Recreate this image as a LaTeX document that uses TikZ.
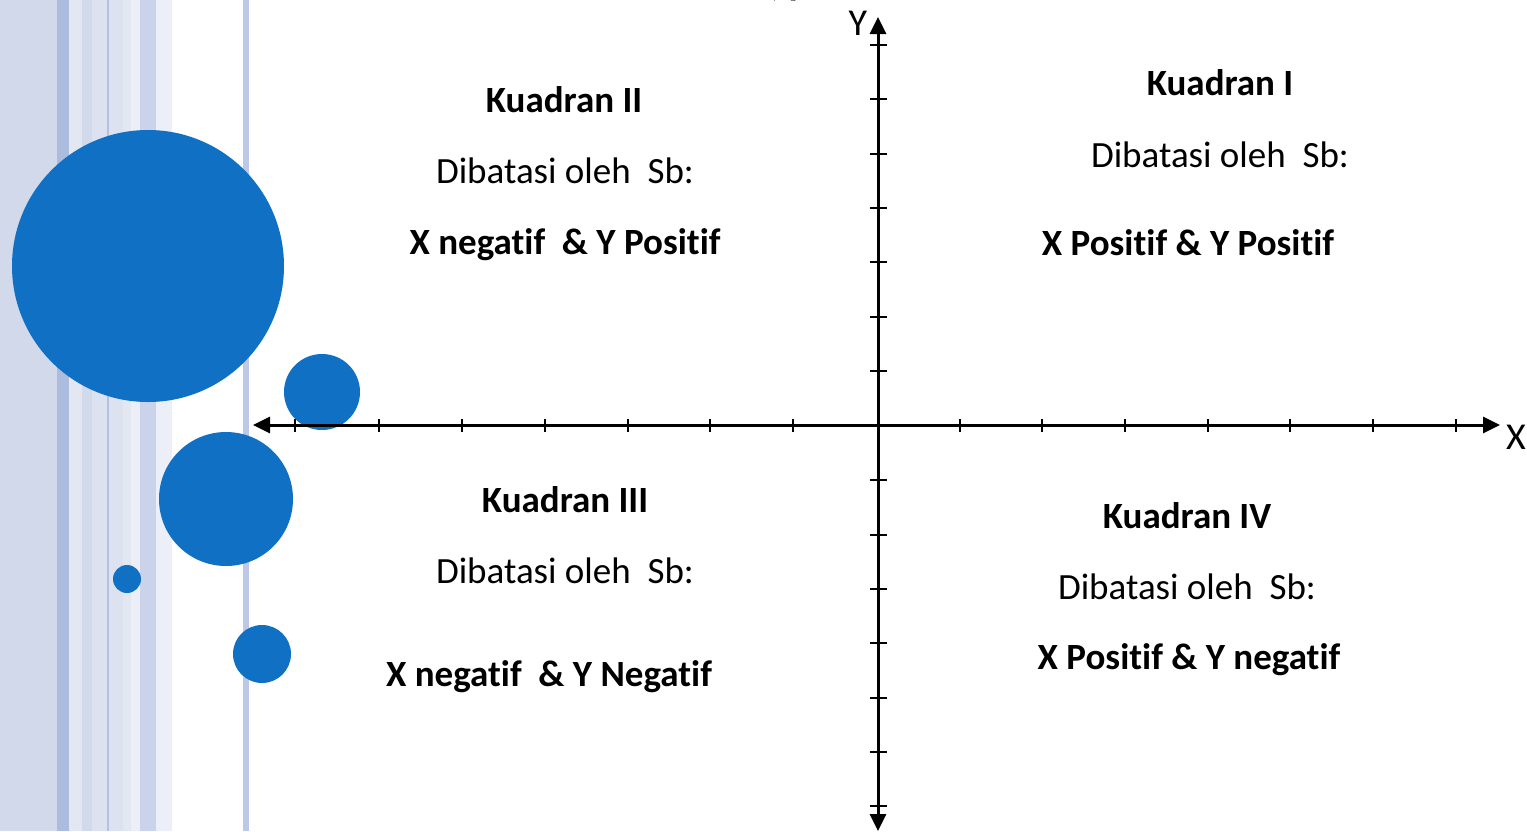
\documentclass[tikz,border=0pt]{standalone}
\usepackage{fontspec}
\setmainfont{Carlito}[Ligatures=NoCommon]
\usetikzlibrary{arrows.meta}
\definecolor{stA}{HTML}{D1D9EB}
\definecolor{stB}{HTML}{ACBCDF}
\definecolor{stC}{HTML}{E3E7F2}
\definecolor{stD}{HTML}{DDE2F0}
\definecolor{stE}{HTML}{B4C2E2}
\definecolor{stF}{HTML}{ECEFF7}
\definecolor{stG}{HTML}{CAD3EA}
\definecolor{stH}{HTML}{BCC8E6}
\definecolor{dot}{HTML}{1070C4}
\tikzset{
  axis/.style={line width=3pt, draw=black, -{Triangle[length=17pt,width=16pt]}},
  tick/.style={line width=2.5pt, draw=black},
  ball/.style={circle, fill=dot, draw=none, inner sep=0pt},
  ttl/.style={font=\fontsize{37}{40}\selectfont\bfseries, inner sep=0pt},
  txt/.style={font=\fontsize{37}{40}\selectfont, inner sep=0pt},
  lbl/.style={font=\fontsize{38}{40}\selectfont, inner sep=0pt},
}
\begin{document}
\begin{tikzpicture}[x=1pt,y=-1pt]
\useasboundingbox (0,0) rectangle (1527,831);
\fill[white] (0,0) rectangle (1527,831);
% background stripes
\fill[stA] (0,0) rectangle (57,831);
\fill[stB] (57,0) rectangle (69,831);
\fill[stC] (69,0) rectangle (82,831);
\fill[stA] (82,0) rectangle (92,831);
\fill[stD] (92,0) rectangle (107,831);
\fill[stE] (107,0) rectangle (109,831);
\fill[stD] (109,0) rectangle (123,831);
\fill[stC] (123,0) rectangle (131,831);
\fill[stF] (131,0) rectangle (140,831);
\fill[stG] (140,0) rectangle (156,831);
\fill[stF] (156,0) rectangle (172,831);
\fill[stH] (243,0) rectangle (249,831);
% cut-off text at the top
\node[font=\fontsize{37}{40}\selectfont, anchor=base, inner sep=0pt] (top) at (787,-4) {$,\;y$};
% circles
\node[ball, minimum size=272pt] (c1) at (148,266) {};
\node[ball, minimum size=76pt] (c2) at (322,392) {};
\node[ball, minimum size=134pt] (c3) at (226,499) {};
\node[ball, minimum size=28pt] (c4) at (127,579) {};
\node[ball, minimum size=58pt] (c5) at (262,654) {};
% axes
\coordinate (xl) at (253,425);
\coordinate (xr) at (1500,425);
\coordinate (yt) at (878,17);
\coordinate (yb) at (878,831);
\coordinate (o) at (878,425);
\draw[axis] (o) -- (xr);
\draw[axis] (o) -- (xl);
\draw[axis] (o) -- (yt);
\draw[axis] (o) -- (yb);
\foreach \t in {295,379,462,545,628,710,793,960,1042,1125,1208,1290,1373,1456}
  \draw[tick] (\t,419) -- (\t,432);
\foreach \t in {45,99,154,208,262,317,371,480,535,589,643,698,752,806}
  \draw[tick] (870,\t) -- (887,\t);
\draw[tick] (874,425) -- (884,425);
\node[lbl] (X) at (1516,437) {X};
\node[lbl] (Y) at (858,23) {Y};
% quadrant II
\node[ttl] (k2) at (564,100) {Kuadran II};
\node[txt] (d2) at (565,171) {Dibatasi oleh\ \ Sb:};
\node[ttl] (s2) at (565,245) {X negatif\ \ \& Y Positif};
% quadrant I
\node[ttl] (k1) at (1220,83) {Kuadran I};
\node[txt] (d1) at (1220,155) {Dibatasi oleh\ \ Sb:};
\node[ttl] (s1) at (1188,243) {X Positif \& Y Positif};
% quadrant III
\node[ttl] (k3) at (565,500) {Kuadran III};
\node[txt] (d3) at (565,571) {Dibatasi oleh\ \ Sb:};
\node[ttl] (s3) at (549,677) {X negatif\ \ \& Y Negatif};
% quadrant IV
\node[ttl] (k4) at (1187,516) {Kuadran IV};
\node[txt] (d4) at (1187,587) {Dibatasi oleh\ \ Sb:};
\node[ttl] (s4) at (1189,660) {X Positif \& Y negatif};
\end{tikzpicture}
\end{document}
